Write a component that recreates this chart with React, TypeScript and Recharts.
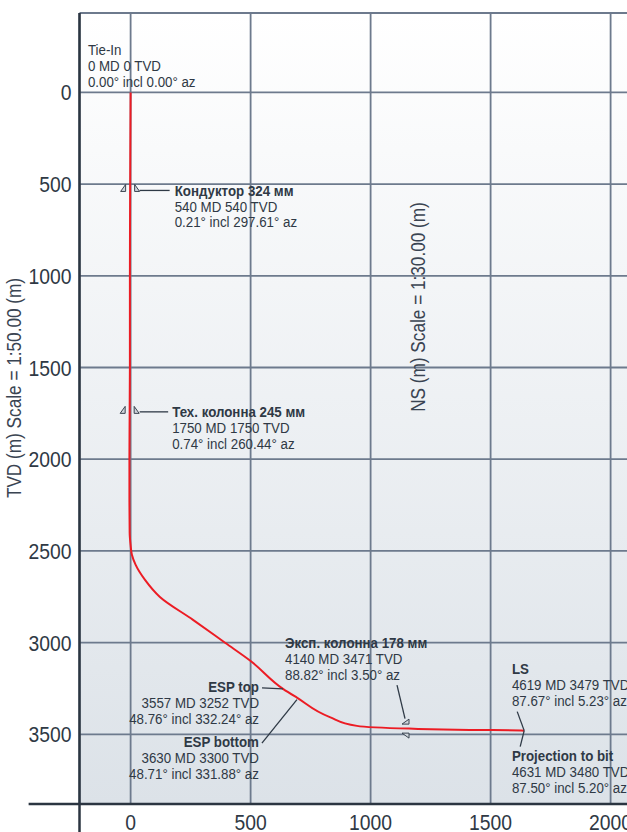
import React from 'react';
import { LineChart, Line, XAxis, YAxis, CartesianGrid, ReferenceLine, ReferenceDot, Label } from 'recharts';

// Trajectory: true vertical depth (m) and north-south displacement (m)
const tvdValues = [0, 540, 1000, 1500, 1750, 2000, 2225, 2400, 2470, 2520, 2576, 2658, 2751, 2876, 3002, 3100, 3252, 3300, 3406, 3454, 3469, 3476, 3479, 3480];
const nsValues = [0, -2, -3, -3, -4, -5, -5, -4, 0, 5, 21, 60, 122, 260, 395, 500, 635, 693, 830, 943, 1160, 1413, 1628, 1640];

const xTicks = [0, 500, 1000, 1500, 2000];
const yTicks = [0, 500, 1000, 1500, 2000, 2500, 3000, 3500];

// Annotations
const noteIds = ['tie', 'kond', 'teh', 'eksp', 'esptop', 'espbot', 'ls', 'bit'];
const noteTitles = ['Tie-In', 'Кондуктор 324 мм', 'Тех. колонна 245 мм', 'Эксп. колонна 178 мм', 'ESP top', 'ESP bottom', 'LS', 'Projection to bit'];
const noteMdTvd = ['0 MD 0 TVD', '540 MD 540 TVD', '1750 MD 1750 TVD', '4140 MD 3471 TVD', '3557 MD 3252 TVD', '3630 MD 3300 TVD', '4619 MD 3479 TVD', '4631 MD 3480 TVD'];
const noteInclAz = ['0.00° incl 0.00° az', '0.21° incl 297.61° az', '0.74° incl 260.44° az', '88.82° incl 3.50° az', '48.76° incl 332.24° az', '48.71° incl 331.88° az', '87.67° incl 5.23° az', '87.50° incl 5.20° az'];
const noteNs = [0, -2, -4, 1160, 635, 693, 1640, 1640];
const noteTvd = [0, 540, 1750, 3469, 3252, 3300, 3480, 3480];

const data = tvdValues.map((t, i) => ({ tvd: t, ns: nsValues[i] }));

const FONT = "'Liberation Sans', Arial, Helvetica, sans-serif";
const TEXT = '#2f3945';
const SX = 0.86;
const LH = 15.8;

function CText(props: any) {
  const { x, y, anchor = 'start', size = 15.5, weight = 400, fill = TEXT, rotate = 0, children } = props;
  const tf = `translate(${x},${y})${rotate ? ` rotate(${rotate})` : ''} scale(${SX},1)`;
  return (
    <text
      transform={tf}
      x={0}
      y={0}
      textAnchor={anchor}
      dominantBaseline="central"
      fontFamily={FONT}
      fontSize={size}
      fontWeight={weight}
      fill={fill}
    >
      {children}
    </text>
  );
}

type Lay = { tx: number; ty: number; anchor: 'start' | 'end'; bold: boolean; leader?: number[][]; marker?: 'v' | 'h' };
const layout: Record<string, Lay> = {
  tie: { tx: -42.7, ty: -42.5, anchor: 'start', bold: false },
  kond: { tx: 44.5, ty: -1, anchor: 'start', bold: true, leader: [[9.5, -1], [39.5, -1]], marker: 'v' },
  teh: { tx: 42.5, ty: -1.5, anchor: 'start', bold: true, leader: [[10, -1.5], [38.5, -1.5]], marker: 'v' },
  eksp: { tx: -124, ty: -85.5, anchor: 'start', bold: true, leader: [[-12, -43.5], [-4, -10]], marker: 'h' },
  esptop: { tx: -24, ty: -2, anchor: 'end', bold: true, leader: [[-21, -1], [0, 0]] },
  espbot: { tx: -38, ty: 44.3, anchor: 'end', bold: true, leader: [[-35, 45.5], [0, 2]] },
  ls: { tx: -12.3, ty: -61.7, anchor: 'start', bold: true, leader: [[-7, -19], [0, 0]] },
  bit: { tx: -12.3, ty: 25.3, anchor: 'start', bold: true, leader: [[0, 0], [-4, 16]] },
};

function Note(props: any) {
  const { cx, cy, idx } = props;
  const lay = layout[noteIds[idx]];
  const lines = [noteTitles[idx], noteMdTvd[idx], noteInclAz[idx]];
  const pts = (arr: number[][]) => arr.map(([dx, dy]) => `${cx + dx},${cy + dy}`).join(' ');
  return (
    <g>
      {lay.leader && (
        <polyline points={pts(lay.leader)} fill="none" stroke="#2f3a46" strokeWidth={1.3} />
      )}
      {lay.marker === 'v' && (
        <g fill="#cfd5dc" stroke="#3a4450" strokeWidth={1}>
          <polygon points={pts([[-4.5, 0], [-9.5, 0], [-4.5, -7]])} />
          <polygon points={pts([[4.5, 0], [9.5, 0], [4.5, -7]])} />
        </g>
      )}
      {lay.marker === 'h' && (
        <g fill="#cfd5dc" stroke="#3a4450" strokeWidth={1}>
          <polygon points={pts([[0, -4.5], [0, -9.5], [-7, -4.5]])} />
          <polygon points={pts([[0, 4.5], [0, 9.5], [-7, 4.5]])} />
        </g>
      )}
      {lines.map((l, i) => (
        <CText
          key={i}
          x={cx + lay.tx}
          y={cy + lay.ty + i * LH}
          anchor={lay.anchor}
          weight={i === 0 && lay.bold ? 700 : 400}
        >
          {l}
        </CText>
      ))}
    </g>
  );
}

const XTick = (p: any) => (
  <CText x={p.x} y={p.y + 10} anchor="middle" size={22.5}>
    {p.payload.value}
  </CText>
);
const YTick = (p: any) => (
  <CText x={p.x} y={p.y} anchor="end" size={22.5}>
    {p.payload.value}
  </CText>
);

export default function App() {
  return (
    <div style={{ position: 'absolute', left: 0, top: 0, width: 627, height: 832, overflow: 'hidden', background: '#fff' }}>
      <LineChart
        width={690}
        height={832}
        data={data}
        layout="vertical"
        margin={{ top: 13, right: 7.4, bottom: 0, left: 0 }}
      >
        <defs>
          <linearGradient id="bgGrad" x1="0" y1="0" x2="0" y2="1">
            <stop offset="0%" stopColor="#ffffff" />
            <stop offset="100%" stopColor="#dce2e8" />
          </linearGradient>
        </defs>
        <CartesianGrid stroke="#6d7a8d" strokeWidth={1.8} fill="url(#bgGrad)" fillOpacity={1} />
        <XAxis
          type="number"
          dataKey="ns"
          domain={[-213, 2300]}
          ticks={xTicks}
          height={28}
          axisLine={false}
          tickLine={false}
          interval={0}
          tick={XTick}
        />
        <YAxis
          type="number"
          dataKey="tvd"
          domain={[-433, 3880]}
          ticks={yTicks}
          width={79.5}
          axisLine={false}
          tickLine={false}
          interval={0}
          tick={YTick}
        >
          <Label
            content={() => (
              <g>
                <CText x={14} y={388} rotate={-90} anchor="middle" size={20} fill="#3a4452">
                  TVD (m) Scale = 1:50.00 (m)
                </CText>
                <CText x={418} y={307} rotate={-90} anchor="middle" size={20} fill="#3a4452">
                  NS (m) Scale = 1:30.00 (m)
                </CText>
              </g>
            )}
          />
        </YAxis>
        <ReferenceLine
          segment={[{ x: -425, y: 3880 }, { x: 2300, y: 3880 }]}
          stroke="#2b3541"
          strokeWidth={2.5}
          ifOverflow="visible"
        />
        <ReferenceLine
          segment={[{ x: -213, y: -433 }, { x: -213, y: 4045 }]}
          stroke="#2b3541"
          strokeWidth={2.5}
          ifOverflow="visible"
        />
        {noteIds.map((id, i) => (
          <ReferenceDot
            key={id}
            x={noteNs[i]}
            y={noteTvd[i]}
            r={0}
            ifOverflow="visible"
            shape={(p: any) => <Note cx={p.cx} cy={p.cy} idx={i} />}
          />
        ))}
        <Line
          dataKey="ns"
          type="monotone"
          stroke="#ec1c24"
          strokeWidth={2}
          dot={false}
          activeDot={false}
          isAnimationActive={false}
        />
      </LineChart>
    </div>
  );
}
